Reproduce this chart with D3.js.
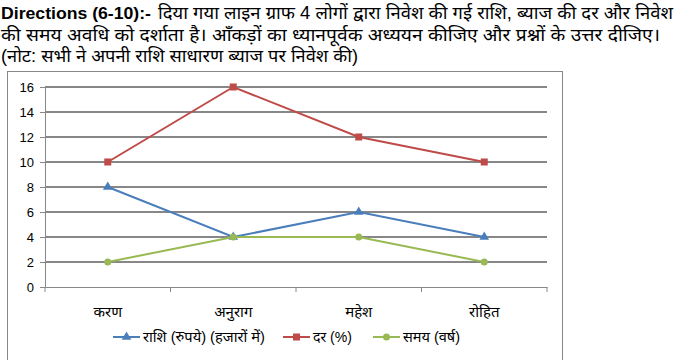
<!DOCTYPE html>
<html><head><meta charset="utf-8">
<script src="https://cdn.jsdelivr.net/npm/d3@7"></script>
<style>
body{margin:0;background:#fff;}
svg{display:block;}
text{font-family:"Liberation Sans", "Noto Sans", sans-serif;}
</style></head>
<body><svg id="c" width="689" height="360"></svg>
<script>
const categories = ["करण", "अनुराग", "महेश", "रोहित"];
const amount = [8, 4, 6, 4];
const rate = [10, 16, 12, 10];
const time = [2, 4, 4, 2];
const seriesNames = ["राशि (रुपये) (हजारों में)", "दर (%)", "समय (वर्ष)"];
const yTicks = [0, 2, 4, 6, 8, 10, 12, 14, 16];
const titleBold = "Directions (6-10):-";
const titleLines = [
  "दिया गया लाइन ग्राफ 4 लोगों द्वारा निवेश की गई राशि, ब्याज की दर और निवेश",
  "की समय अवधि को दर्शाता है। आँकड़ों का ध्यानपूर्वक अध्ययन कीजिए और प्रश्नों के उत्तर दीजिए।",
  "(नोट: सभी ने अपनी राशि साधारण ब्याज पर निवेश की)"
];

const colors = ["#4a7ebb", "#be4b48", "#98b954"];
const series = [amount, rate, time];
const svg = d3.select("#c");

// title
svg.append("text").attr("x", 1).attr("y", 19).attr("font-family", "Open Sans")
  .attr("font-weight", "bold").attr("font-size", 16)
  .attr("textLength", 150).attr("lengthAdjust", "spacingAndGlyphs").text(titleBold);
const titleX = [158, 1, 1], titleW = [515, 659, 357], titleY = [19, 41, 62];
titleLines.forEach((l, i) => {
  svg.append("text").attr("x", titleX[i]).attr("y", titleY[i])
    .attr("font-size", 18).attr("fill", "#000")
    .attr("textLength", titleW[i]).attr("lengthAdjust", "spacingAndGlyphs").text(l);
});

// chart frame
svg.append("rect").attr("x", 7.5).attr("y", 71.5).attr("width", 555).attr("height", 300)
  .attr("fill", "none").attr("stroke", "#888").attr("stroke-width", 1);

const x = d3.scaleBand().domain(categories).range([45, 547]);
const y = d3.scaleLinear().domain([0, 16]).range([287, 87]);

// grid
svg.append("g").selectAll("line").data(yTicks.filter(d => d > 0)).join("line")
  .attr("x1", 45).attr("x2", 547).attr("y1", d => y(d)).attr("y2", d => y(d))
  .attr("stroke", "#878787").attr("stroke-width", 2);

// y axis
const ya = svg.append("g").attr("transform", "translate(45,0)")
  .call(d3.axisLeft(y).tickValues(yTicks).tickSize(5).tickPadding(6));
ya.select(".domain").attr("stroke", "#888");
ya.selectAll(".tick line").attr("stroke", "#888");
ya.selectAll("text").attr("font-size", 13).attr("fill", "#000").attr("font-family", "Liberation Sans");

// x axis
const xa = svg.append("g").attr("transform", "translate(0,287)")
  .call(d3.axisBottom(x).tickSize(0).tickPadding(19));
xa.select(".domain").attr("stroke", "#888");
xa.selectAll("text").attr("font-size", 15).attr("fill", "#000");
// category boundary ticks
const bounds = categories.map(c => x(c)).concat([x.range()[1]]);
svg.append("g").selectAll("line").data(bounds).join("line")
  .attr("x1", d => d).attr("x2", d => d).attr("y1", 287).attr("y2", 292)
  .attr("stroke", "#888");

const cx = c => x(c) + x.bandwidth() / 2;
const line = d3.line().x((d, i) => cx(categories[i])).y(d => y(d));

series.forEach((s, k) => {
  svg.append("path").datum(s).attr("d", line).attr("fill", "none")
    .attr("stroke", colors[k]).attr("stroke-width", 2);
  const g = svg.append("g");
  s.forEach((v, i) => {
    drawMarker(g, k, cx(categories[i]), y(v));
  });
});

function drawMarker(g, k, px, py) {
  if (k === 0) {
    g.append("path").attr("d", d3.symbol(d3.symbolTriangle, 40)()).attr("transform", `translate(${px},${py})`).attr("fill", colors[0]);
  } else if (k === 1) {
    g.append("rect").attr("x", px - 3.5).attr("y", py - 3.5).attr("width", 7).attr("height", 7).attr("fill", colors[1]);
  } else {
    g.append("circle").attr("cx", px).attr("cy", py).attr("r", 3.5).attr("fill", colors[2]);
  }
}

// legend
const legendX = [113, 283, 373];
const legendW = [122, 39, 57];
seriesNames.forEach((n, k) => {
  const lx = legendX[k], ly = 337;
  svg.append("line").attr("x1", lx).attr("x2", lx + 27).attr("y1", ly).attr("y2", ly)
    .attr("stroke", colors[k]).attr("stroke-width", 2);
  drawMarker(svg, k, lx + 13.5, ly);
  svg.append("text").attr("x", lx + 30).attr("y", ly).attr("dy", "0.35em")
    .attr("font-size", 14.5).attr("fill", "#000")
    .attr("textLength", legendW[k]).attr("lengthAdjust", "spacingAndGlyphs").text(n);
});
</script></body></html>
